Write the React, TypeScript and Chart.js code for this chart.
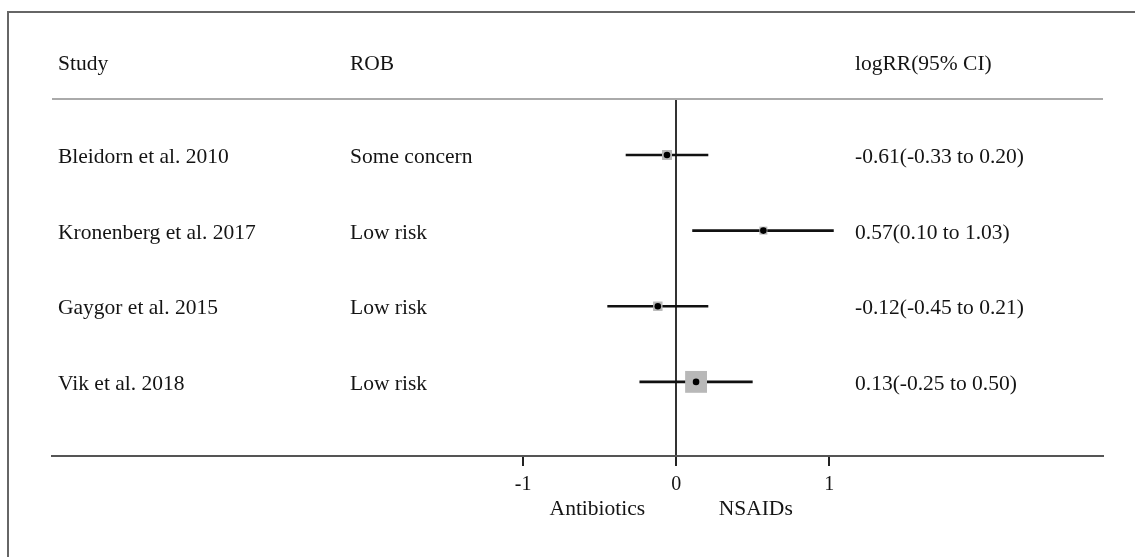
import React, { useEffect, useRef } from "react";
import { Chart, registerables } from "chart.js";
Chart.register(...registerables);

const headers = ["Study", "ROB", "logRR(95% CI)"];
const studies = ["Bleidorn et al. 2010", "Kronenberg et al. 2017", "Gaygor et al. 2015", "Vik et al. 2018"];
const rob = ["Some concern", "Low risk", "Low risk", "Low risk"];
const ciLabels = ["-0.61(-0.33 to 0.20)", "0.57(0.10 to 1.03)", "-0.12(-0.45 to 0.21)", "0.13(-0.25 to 0.50)"];
const estimates = [-0.06, 0.57, -0.12, 0.13];
const lower = [-0.33, 0.105, -0.45, -0.24];
const upper = [0.21, 1.03, 0.21, 0.5];
const weights = [13.6, 8.7, 12.2, 65.5];
const xTicks = [-1, 0, 1];
const directionLabels = ["Antibiotics", "NSAIDs"];

const FONT = '"Liberation Serif", "Times New Roman", serif';
const TEXT = "#141414";

const tablePlugin = {
  id: "tablePlugin",
  afterDraw(chart: any) {
    const { ctx, chartArea, scales } = chart;
    const xs = scales.x;
    const ys = scales.y;
    ctx.save();
    // outer frame (left & top)
    ctx.strokeStyle = "#666";
    ctx.lineWidth = 2;
    ctx.beginPath();
    ctx.moveTo(8, chart.height);
    ctx.lineTo(8, 12);
    ctx.lineTo(chart.width, 12);
    ctx.stroke();
    // header separator
    ctx.strokeStyle = "#aaaaaa";
    ctx.lineWidth = 2;
    ctx.beginPath();
    ctx.moveTo(chartArea.left, chartArea.top);
    ctx.lineTo(chartArea.right, chartArea.top);
    ctx.stroke();

    const colX = [58, 350, 855];
    ctx.fillStyle = TEXT;
    ctx.font = `21.5px ${FONT}`;
    ctx.textAlign = "left";
    ctx.textBaseline = "alphabetic";
    headers.forEach((h, i) => ctx.fillText(h, colX[i], chartArea.top - 29));
    studies.forEach((s, i) => {
      const y = ys.getPixelForValue(i + 1) + 8;
      ctx.fillText(s, colX[0], y);
      ctx.fillText(rob[i], colX[1], y);
      ctx.fillText(ciLabels[i], colX[2], y);
    });
    // direction labels
    ctx.textAlign = "center";
    ctx.fillText(directionLabels[0], xs.getPixelForValue(-0.515), chartArea.bottom + 59);
    ctx.fillText(directionLabels[1], xs.getPixelForValue(0.52), chartArea.bottom + 59);
    ctx.restore();
  },
};

export default function App() {
  const ref = useRef<HTMLCanvasElement>(null);
  useEffect(() => {
    document.body.style.margin = "0";
    const rows = studies.map((_, i) => i + 1);
    const ciSets = rows.map((r, i) => ({
      type: "line" as const,
      data: [
        { x: lower[i], y: r },
        { x: upper[i], y: r },
      ],
      borderColor: "#111",
      borderWidth: 2.6,
      pointRadius: 0,
      showLine: true,
      order: 3,
    }));
    const chart = new Chart(ref.current!, {
      type: "scatter",
      data: {
        datasets: [
          ...ciSets,
          {
            data: rows.map((r, i) => ({ x: estimates[i], y: r })),
            pointStyle: "rect",
            pointRadius: weights.map((w) => (27 * Math.sqrt(w / 100)) / Math.SQRT2),
            backgroundColor: "#b8b8b8",
            borderColor: "#b8b8b8",
            borderWidth: 0,
            order: 2,
          },
          {
            data: rows.map((r, i) => ({ x: estimates[i], y: r })),
            pointStyle: "circle",
            pointRadius: 3.3,
            backgroundColor: "#000",
            borderWidth: 0,
            order: 1,
          },
        ] as any,
      },
      options: {
        animation: false,
        responsive: false,
        events: [],
        layout: { padding: { left: 52, right: 32, top: 99, bottom: 61 } },
        plugins: { legend: { display: false }, tooltip: { enabled: false } },
        scales: {
          x: {
            type: "linear",
            min: -4.08,
            max: 2.79,
            afterBuildTicks: (scale: any) => {
              scale.ticks = xTicks.map((v) => ({ value: v }));
            },
            afterFit: (scale: any) => {
              scale.height = 40;
            },
            border: { display: true, color: "#555", width: 2 },
            grid: {
              drawOnChartArea: true,
              color: (c: any) => (c.tick && c.tick.value === 0 ? "#333" : "rgba(0,0,0,0)"),
              lineWidth: 2,
              tickColor: "#222",
              tickWidth: 2,
              tickLength: 10,
            },
            ticks: {
              padding: 7,
              color: TEXT,
              font: { family: FONT, size: 20 },
              callback: (v: any) => String(v),
            },
          },
          y: {
            type: "linear",
            reverse: true,
            min: 0.26,
            max: 4.98,
            display: false,
          },
        },
      },
      plugins: [tablePlugin],
    });
    return () => chart.destroy();
  }, []);
  return <canvas ref={ref} width={1135} height={557} style={{ display: "block" }} />;
}
